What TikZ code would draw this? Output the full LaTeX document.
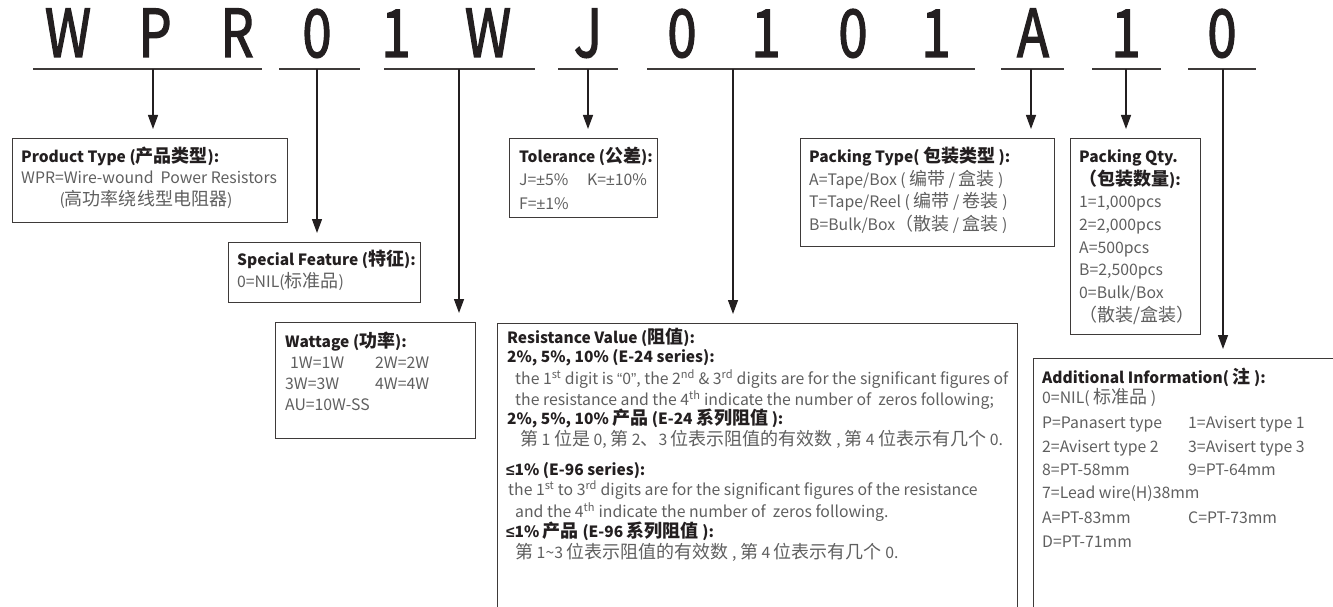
\documentclass[tikz,border=0pt]{standalone}
\usepackage{fontspec}
\setmainfont{Noto Sans CJK SC}
\newfontfamily\symfont{Liberation Sans}
\newfontfamily\codefont[FakeBold=2.1]{Noto Sans CJK SC}
\usetikzlibrary{arrows.meta}
\definecolor{ink}{HTML}{231F20}
\definecolor{greytxt}{HTML}{5F5F5F}
\definecolor{lineclr}{HTML}{3E3A39}

% Chinese glyphs are set larger than the Latin ones
\newcommand\zh[1]{{\fontsize{18}{18}\selectfont #1}}
\newcommand\sym[1]{{\symfont #1}}

\tikzset{
  codechar/.style={font=\codefont\fontsize{66}{66}\selectfont, text=ink, anchor=base, inner sep=0pt},
  uline/.style={draw=lineclr, line width=2pt},
  box/.style={draw=lineclr, line width=1.4pt, anchor=north west, inner sep=0pt},
  txt/.style={font=\fontsize{15.8}{18}\selectfont, text=greytxt, anchor=base west, inner sep=0pt},
  headtxt/.style={txt, text=ink, font=\fontsize{15.5}{18}\selectfont\bfseries},
  arr/.style={draw=ink, line width=1.3pt, -{Triangle[width=10pt,length=14pt]}, shorten >=9pt},
}

\begin{document}
\begin{tikzpicture}[x=1pt,y=-1pt]
  \useasboundingbox (0,0) rectangle (1333,607);
  \clip (0,0) rectangle (1333,607);

  % part number
  \foreach \c/\x [count=\i] in {W/68,P/155,R/237,0/317,1/396,W/488,J/588,0/682,1/766,0/853,1/936,A/1033,1/1126,0/1222} {
    \node[codechar] (c\i) at (\x,57) {\scalebox{0.8}[1]{\c}};
  }

  % underlines, with the tick of each group
  \foreach \a/\b/\t/\n in {33/262/153/pt, 279/360/317/sf, 384/535/459/wt, 558/618/588/tl, 647/975/733/rv, 1001/1064/1031/pk, 1092/1161/1126/pq, 1188/1256/1223/ad} {
    \draw[uline] (\a,69.5) -- (\b,69.5);
    \coordinate (t\n) at (\t,69.5);
  }

  % boxes
  \node[box, minimum width=275pt, minimum height=84pt] (ptype) at (12,138) {};
  \node[box, minimum width=192pt, minimum height=60pt] (spec) at (228,242) {};
  \node[box, minimum width=200pt, minimum height=116pt] (watt) at (275,322) {};
  \node[box, minimum width=148pt, minimum height=79pt] (tol) at (509,138) {};
  \node[box, minimum width=520pt, minimum height=300pt] (res) at (497,323) {};
  \node[box, minimum width=254pt, minimum height=108pt] (pack) at (800,138) {};
  \node[box, minimum width=130pt, minimum height=196pt] (qty) at (1070,138) {};
  \node[box, minimum width=320pt, minimum height=270pt] (addi) at (1033,358) {};

  % arrows
  \draw[arr] (tpt) -- (tpt |- ptype.north);
  \draw[arr] (tsf) -- (tsf |- spec.north);
  \draw[arr] (twt) -- (twt |- watt.north);
  \draw[arr] (ttl) -- (ttl |- tol.north);
  \draw[arr] (trv) -- (trv |- res.north);
  \draw[arr] (tpk) -- (tpk |- pack.north);
  \draw[arr] (tpq) -- (tpq |- qty.north);
  \draw[arr] (tad) -- (tad |- addi.north);

  % product type
  \node[headtxt] (pt1) at (21,162) {Product Type (\zh{产品类型}):};
  \node[txt] (pt2) at (21,183) {WPR=Wire-wound\ \ Power Resistors};
  \node[txt, anchor=base] (pt3) at (146,205) {(\zh{高功率绕线型电阻器})};

  % special feature
  \node[headtxt] (sf1) at (237,265) {Special Feature (\zh{特征}):};
  \node[txt] (sf2) at (237,287) {0=NIL(\zh{标准品})};

  % wattage
  \node[headtxt] (wt1) at (285,347) {Wattage (\zh{功率}):};
  \node[txt] (wt2) at (290,368) {1W=1W};
  \node[txt] (wt3) at (375,368) {2W=2W};
  \node[txt] (wt4) at (285,389) {3W=3W};
  \node[txt] (wt5) at (375,389) {4W=4W};
  \node[txt] (wt6) at (285,410) {AU=10W-SS};

  % tolerance
  \node[headtxt] (tl1) at (519,162) {Tolerance (\zh{公差}):};
  \node[txt] (tl2) at (519,185) {J=\sym{±}5\%};
  \node[txt] (tl3) at (587,185) {K=\sym{±}10\%};
  \node[txt] (tl4) at (519,209) {F=\sym{±}1\%};

  % resistance value
  \node[headtxt] (rv1) at (507,343) {Resistance Value (\zh{阻值}):};
  \node[headtxt] (rv2) at (507,362) {2\%, 5\%, 10\% (E-24 series):};
  \node[txt] (rv3) at (515,384) {the 1\textsuperscript{st} digit is \sym{“}0\sym{”}, the 2\textsuperscript{nd} \& 3\textsuperscript{rd} digits are for the significant figures of};
  \node[txt] (rv4) at (515,405) {the resistance and the 4\textsuperscript{th} indicate the number of\ \ zeros following;};
  \node[headtxt] (rv5) at (507,424) {2\%, 5\%, 10\% \zh{产品} (E-24 \zh{系列阻值} ):};
  \node[txt] (rv6) at (520,445) {\zh{第} 1 \zh{位是} 0, \zh{第} 2\zh{、}3 \zh{位表示阻值的有效数} , \zh{第} 4 \zh{位表示有几个} 0.};
  \node[headtxt] (rv7) at (506,475) {\sym{≤}1\% (E-96 series):};
  \node[txt] (rv8) at (508,495) {the 1\textsuperscript{st} to 3\textsuperscript{rd} digits are for the significant figures of the resistance};
  \node[txt] (rv9) at (515,517) {and the 4\textsuperscript{th} indicate the number of\ \ zeros following.};
  \node[headtxt] (rv10) at (506,537) {\sym{≤}1\% \zh{产品} (E-96 \zh{系列阻值} ):};
  \node[txt] (rv11) at (515,558) {\zh{第} 1\textasciitilde 3 \zh{位表示阻值的有效数} , \zh{第} 4 \zh{位表示有几个} 0.};

  % packing type
  \node[headtxt] (pk1) at (809,162) {Packing Type( \zh{包装类型} ):};
  \node[txt] (pk2) at (809,185) {A=Tape/Box ( \zh{编带} / \zh{盒装} )};
  \node[txt] (pk3) at (809,207) {T=Tape/Reel ( \zh{编带} / \zh{卷装} )};
  \node[txt] (pk4) at (809,230) {B=Bulk/Box\zh{（散装} / \zh{盒装} )};

  % packing quantity
  \node[headtxt] (pq1) at (1079,162) {Packing Qty.};
  \node[headtxt] (pq2) at (1079,185) {\zh{（包装数量}):};
  \node[txt] (pq3) at (1079,207) {1=1,000pcs};
  \node[txt] (pq4) at (1079,230) {2=2,000pcs};
  \node[txt] (pq5) at (1079,253) {A=500pcs};
  \node[txt] (pq6) at (1079,275) {B=2,500pcs};
  \node[txt] (pq7) at (1079,298) {0=Bulk/Box};
  \node[txt] (pq8) at (1079,321) {\zh{（散装/盒装）}};

  % additional information
  \node[headtxt] (ad1) at (1042,383) {Additional Information( \zh{注} ):};
  \node[txt] (ad2) at (1042,403) {0=NIL( \zh{标准品} )};
  \node[txt] (ad3) at (1042,428) {P=Panasert type};
  \node[txt] (ad4) at (1188,428) {1=Avisert type 1};
  \node[txt] (ad5) at (1042,452) {2=Avisert type 2};
  \node[txt] (ad6) at (1188,452) {3=Avisert type 3};
  \node[txt] (ad7) at (1042,475) {8=PT-58mm};
  \node[txt] (ad8) at (1188,475) {9=PT-64mm};
  \node[txt] (ad9) at (1042,498) {7=Lead wire(H)38mm};
  \node[txt] (ad10) at (1042,523) {A=PT-83mm};
  \node[txt] (ad11) at (1188,523) {C=PT-73mm};
  \node[txt] (ad12) at (1042,547) {D=PT-71mm};
\end{tikzpicture}
\end{document}
